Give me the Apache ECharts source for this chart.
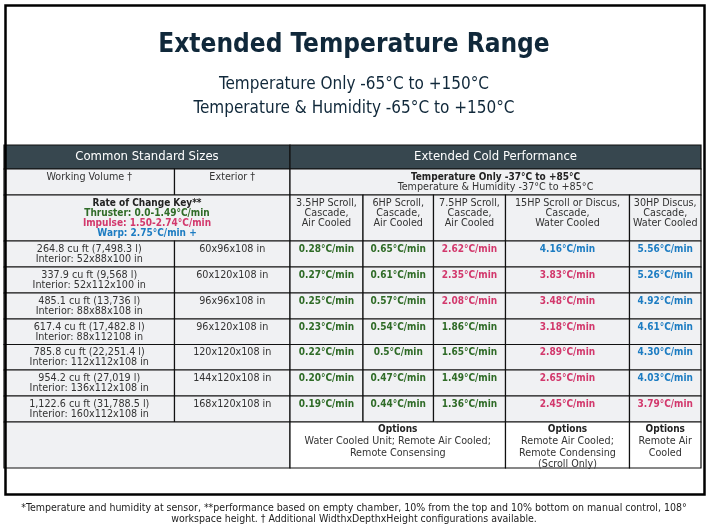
<!DOCTYPE html>
<html>
<head>
<meta charset="utf-8">
<script src="https://cdn.jsdelivr.net/npm/echarts@6/dist/echarts.min.js"></script>
<style>
html, body { margin: 0; padding: 0; background: #fff; }
#chart { width: 708px; height: 527px; }
</style>
</head>
<body>
<div id="chart"></div>
<script>
var FONT = '"Liberation Sans Narrow", "DejaVu Sans Condensed", sans-serif';

// chamber sizes
var volumes = ['264.8 cu ft (7,498.3 l)', '337.9 cu ft (9,568 l)', '485.1 cu ft (13,736 l)',
    '617.4 cu ft (17,482.8 l)', '785.8 cu ft (22,251.4 l)', '954.2 cu ft (27,019 l)', '1,122.6 cu ft (31,788.5 l)'];
var interiors = ['52x88x100 in', '52x112x100 in', '88x88x108 in', '88x112108 in',
    '112x112x108 in', '136x112x108 in', '160x112x108 in'];
var exteriors = ['60x96x108 in', '60x120x108 in', '96x96x108 in', '96x120x108 in',
    '120x120x108 in', '144x120x108 in', '168x120x108 in'];

// refrigeration systems (columns)
var models = ['3.5HP Scroll,\nCascade,\nAir Cooled', '6HP Scroll,\nCascade,\nAir Cooled',
    '7.5HP Scroll,\nCascade,\nAir Cooled', '15HP Scroll or Discus,\nCascade,\nWater Cooled',
    '30HP Discus,\nCascade,\nWater Cooled'];

// rate of change, °C/min
var rate35 = ['0.28', '0.27', '0.25', '0.23', '0.22', '0.20', '0.19'];
var rate6 = ['0.65', '0.61', '0.57', '0.54', '0.5', '0.47', '0.44'];
var rate75 = ['2.62', '2.35', '2.08', '1.86', '1.65', '1.49', '1.36'];
var rate15 = ['4.16', '3.83', '3.48', '3.18', '2.89', '2.65', '2.45'];
var rate30 = ['5.56', '5.26', '4.92', '4.61', '4.30', '4.03', '3.79'];

var optionTexts = ['Water Cooled Unit; Remote Air Cooled;\nRemote Consensing',
    'Remote Air Cooled;\nRemote Condensing\n(Scroll Only)', 'Remote Air\nCooled'];

// layout of the table (in px units of the grid)
var colEdges = [0, 170.5, 286, 359, 429.5, 501.5, 625.5, 697];
var rowEdges = [0, 24, 50, 96, 122, 148, 174, 199.5, 225, 251, 277, 323];

var DARK = '#37474f', GREY = '#f0f1f3', WHITE = '#ffffff';
var INK = '#10283a';

var RICH = {
    h: { fontSize: 13, fill: '#ffffff', fontFamily: FONT, lineHeight: 14 },
    n: { fontSize: 10.7, fill: '#333333', fontFamily: FONT, lineHeight: 10 },
    o: { fontSize: 10.7, fill: '#333333', fontFamily: FONT, lineHeight: 11.5 },
    b: { fontSize: 10, fill: '#222222', fontFamily: FONT, fontWeight: 'bold', lineHeight: 10 },
    ob: { fontSize: 10, fill: '#222222', fontFamily: FONT, fontWeight: 'bold', lineHeight: 11.5 },
    g: { fontSize: 10, fill: '#2f6b27', fontFamily: FONT, fontWeight: 'bold', lineHeight: 10 },
    p: { fontSize: 10, fill: '#d2386c', fontFamily: FONT, fontWeight: 'bold', lineHeight: 10 },
    u: { fontSize: 10, fill: '#1c7cc2', fontFamily: FONT, fontWeight: 'bold', lineHeight: 10 }
};

function lines(tag, s) {
    return s.split('\n').map(function (l) { return '{' + tag + '|' + l + '}'; }).join('\n');
}
// colour tier as printed in the source table
function tier(v) {
    var x = parseFloat(v);
    return x < 2 ? 'g' : (x < 4 ? 'p' : 'u');
}

var cells = [];
function cell(c0, c1, r0, r1, fill, text, pad) {
    cells.push({ c0: c0, c1: c1, r0: r0, r1: r1, fill: fill, text: text, pad: pad });
}

cell(0, 2, 0, 1, DARK, '{h|Common Standard Sizes}', 5);
cell(2, 7, 0, 1, DARK, '{h|Extended Cold Performance}', 5);
cell(0, 1, 1, 2, GREY, '{n|Working Volume †}', 3);
cell(1, 2, 1, 2, GREY, '{n|Exterior †}', 3);
cell(2, 7, 1, 2, GREY, '{b|Temperature Only -37°C to +85°C}\n{n|Temperature & Humidity -37°C to +85°C}', 3);
cell(0, 2, 2, 3, GREY, '{b|Rate of Change Key**}\n{g|Thruster: 0.0-1.49°C/min}\n{p|Impulse: 1.50-2.74°C/min}\n{u|Warp: 2.75°C/min +}', 3);
models.forEach(function (m, i) { cell(2 + i, 3 + i, 2, 3, GREY, lines('n', m), 3); });

var rateCols = [rate35, rate6, rate75, rate15, rate30];
volumes.forEach(function (v, r) {
    cell(0, 1, 3 + r, 4 + r, GREY, '{n|' + v + '}\n{n|Interior: ' + interiors[r] + '}', 3);
    cell(1, 2, 3 + r, 4 + r, GREY, '{n|' + exteriors[r] + '}', 3);
    rateCols.forEach(function (col, k) {
        cell(2 + k, 3 + k, 3 + r, 4 + r, GREY, '{' + tier(col[r]) + '|' + col[r] + '°C/min}', 3);
    });
});

cell(0, 2, 10, 11, GREY, '', 3);
cell(2, 5, 10, 11, WHITE, '{ob|Options}\n' + lines('o', optionTexts[0]), 2);
cell(5, 6, 10, 11, WHITE, '{ob|Options}\n' + lines('o', optionTexts[1]), 2);
cell(6, 7, 10, 11, WHITE, '{ob|Options}\n' + lines('o', optionTexts[2]), 2);

var cellData = cells.map(function (c, i) {
    return [colEdges[c.c0], colEdges[c.c1], rowEdges[c.r0], rowEdges[c.r1], i];
});

function renderCell(params, api) {
    var c = cells[api.value(4)];
    var p0 = api.coord([api.value(0), api.value(2)]);
    var p1 = api.coord([api.value(1), api.value(3)]);
    var x = Math.min(p0[0], p1[0]), y = Math.min(p0[1], p1[1]);
    var w = Math.abs(p1[0] - p0[0]), h = Math.abs(p1[1] - p0[1]);
    return {
        type: 'group',
        children: [
            { type: 'rect', shape: { x: x, y: y, width: w, height: h },
              style: { fill: c.fill, stroke: '#111111', lineWidth: 1.2 } },
            { type: 'text', x: x + w / 2, y: y + c.pad,
              style: { text: c.text, rich: RICH, align: 'center', verticalAlign: 'top',
                       fontFamily: FONT, fontSize: 10 } }
        ]
    };
}

var chart = echarts.init(document.getElementById('chart'));
chart.setOption({
    backgroundColor: '#ffffff',
    animation: false,
    title: [
        { text: 'Extended Temperature Range', left: 'center', top: 27,
          textStyle: { fontFamily: FONT, fontSize: 26, fontWeight: 'bold', color: INK } },
        { text: 'Temperature Only -65°C to +150°C\nTemperature & Humidity -65°C to +150°C',
          left: 'center', top: 68,
          textStyle: { fontFamily: FONT, fontSize: 17, fontWeight: 'normal', color: INK, lineHeight: 24, align: 'center' } },
        { text: '*Temperature and humidity at sensor, **performance based on empty chamber, 10% from the top and 10% bottom on manual control, 108°\nworkspace height. † Additional WidthxDepthxHeight configurations available.',
          left: 'center', top: 498,
          textStyle: { fontFamily: FONT, fontSize: 10.5, fontWeight: 'normal', color: '#222222', lineHeight: 11, align: 'center' } }
    ],
    graphic: [
        { type: 'rect', left: 3, top: 3, shape: { width: 699, height: 489 },
          style: { fill: 'none', stroke: '#000000', lineWidth: 2.5 }, z: 10 }
    ],
    grid: { left: 4, top: 145, width: 697, height: 323 },
    xAxis: { type: 'value', min: 0, max: 697, show: false },
    yAxis: { type: 'value', min: 0, max: 323, inverse: true, show: false },
    series: [{
        type: 'custom',
        renderItem: renderCell,
        data: cellData,
        encode: { x: [0, 1], y: [2, 3] },
        silent: true
    }]
});
</script>
</body>
</html>
